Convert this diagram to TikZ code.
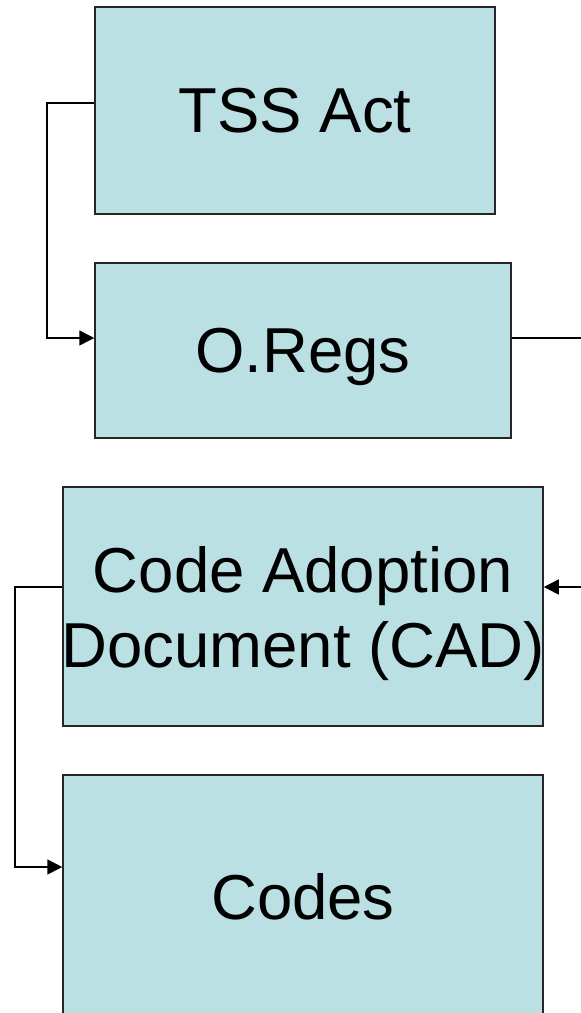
\documentclass[tikz,border=0pt]{standalone}
\usepackage{fontspec}
\setmainfont{Liberation Sans}
\usetikzlibrary{arrows.meta}
\definecolor{boxfill}{HTML}{BAE0E3}
\begin{document}
\begin{tikzpicture}[x=1pt,y=-1pt,
  box/.style={draw=black!85,line width=1.5pt,fill=boxfill,inner sep=0pt,
    font=\fontsize{63.5}{75}\selectfont,align=center},
  conn/.style={line width=1.5pt,-{Triangle[length=15pt,width=15pt]}}]
\clip (0,0) rectangle (581,1013);
\node[box,minimum width=400pt,minimum height=207pt] (tss) at (295,110.5) {TSS Act};
\node[box,minimum width=416pt,minimum height=175pt,text depth=0pt] (oregs) at (303,350.5) {O.Regs};
\node[box,minimum width=480pt,minimum height=239pt] (cad) at (303,606.5)
  {\rule{0pt}{60pt}\makebox[0pt]{Code Adoption}\\\makebox[0pt]{Document (CAD)}};
\node[box,minimum width=480pt,minimum height=244pt] (codes) at (303,897) {Codes};
\coordinate (lx1) at (47,0);
\coordinate (lx2) at (15,0);
\coordinate (rx) at (600,0);
\draw[conn] ([yshift=7.5pt]tss.west) -- ([yshift=7.5pt]tss.west -| lx1)
  -- ([yshift=12.5pt]oregs.west -| lx1) -- ([yshift=12.5pt]oregs.west);
\draw[conn] ([yshift=12.5pt]oregs.east) -- ([yshift=12.5pt]oregs.east -| rx)
  -- ([yshift=19.5pt]cad.east -| rx) -- ([yshift=19.5pt]cad.east);
\draw[conn] ([yshift=19.5pt]cad.west) -- ([yshift=19.5pt]cad.west -| lx2)
  -- ([yshift=30pt]codes.west -| lx2) -- ([yshift=30pt]codes.west);
\end{tikzpicture}
\end{document}
